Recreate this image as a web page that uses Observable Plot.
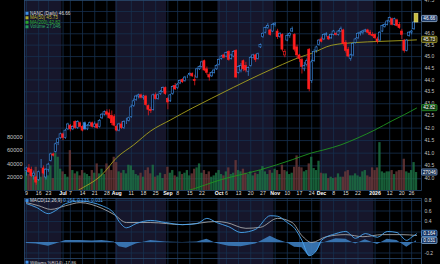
<!DOCTYPE html>
<html><head><meta charset="utf-8">
<script src="https://cdn.jsdelivr.net/npm/d3@7"></script>
<script src="https://cdn.jsdelivr.net/npm/@observablehq/plot@0.6"></script>
<style>
html,body{margin:0;padding:0;background:#000;}
#wrap{position:relative;width:440px;height:264px;overflow:hidden;background:#000;}
#wrap svg{position:absolute;left:0;}
</style></head><body><div id="wrap"></div>
<script>
// ---- DATA (trading-day index 0 = 9 Jun 2025 ... 160 = 28 Jan 2026) ----
const opens = [
40.30,40.40,40.35,40.10,40.05,39.95,40.45,40.40,40.05,40.35,
40.70,40.95,41.05,41.40,41.60,41.75,41.60,41.95,42.10,41.95,
42.25,42.00,42.20,42.05,42.20,41.95,42.10,42.20,42.05,42.15,
42.05,42.40,42.55,42.65,42.60,42.50,42.45,42.05,41.90,42.15,
42.00,42.30,42.30,42.45,42.90,43.15,43.30,43.35,43.25,43.30,
42.90,42.75,42.75,43.35,43.20,43.40,43.50,43.65,43.20,43.10,
43.40,43.75,43.65,43.85,44.00,43.95,44.15,44.20,44.25,44.00,
44.10,44.45,44.55,44.80,44.45,44.20,44.15,44.30,44.45,44.65,
44.90,45.05,45.00,45.20,44.90,45.00,45.25,44.30,44.40,44.80,
44.60,44.35,44.60,44.95,45.05,44.90,45.40,45.85,46.05,46.25,
46.15,46.10,46.40,46.10,45.85,45.95,45.05,45.70,45.90,46.10,
45.95,45.40,45.05,44.85,44.45,44.65,45.30,43.95,44.80,45.25,
45.50,45.75,45.75,45.95,45.85,45.80,45.95,46.00,45.95,46.10,
46.15,45.60,45.30,44.90,45.05,45.60,45.80,46.00,46.05,46.10,
46.15,46.05,45.95,45.95,45.75,45.70,46.10,46.30,46.40,46.55,
46.65,46.40,46.60,46.40,46.10,45.70,45.25,45.90,46.05,46.20,
46.55];
const highs = [
40.45,40.55,40.45,40.30,40.10,40.30,40.75,40.50,40.40,40.60,
41.00,41.00,41.40,41.60,41.80,41.80,41.95,42.20,42.15,42.10,
42.30,42.30,42.25,42.10,42.25,42.15,42.25,42.25,42.25,42.20,
42.35,42.60,42.70,42.75,42.75,42.70,42.55,42.10,42.20,42.25,
42.30,42.40,42.45,42.95,43.20,43.35,43.40,43.40,43.35,43.35,
42.95,42.85,43.40,43.45,43.40,43.55,43.70,43.70,43.25,43.40,
43.75,43.85,43.85,44.00,44.05,44.15,44.20,44.30,44.30,44.20,
44.50,44.60,44.80,44.85,44.55,44.30,44.35,44.45,44.65,44.90,
45.05,45.10,45.20,45.25,45.10,45.25,45.30,44.60,44.70,44.85,
44.75,44.55,45.00,45.10,45.10,45.15,45.55,46.05,46.30,46.45,
46.20,46.45,46.50,46.20,46.05,46.00,45.30,46.00,46.05,46.30,
46.00,45.50,45.10,44.95,44.75,44.90,45.35,44.85,45.30,45.45,
45.75,45.85,46.00,46.05,45.90,46.00,46.15,46.05,46.15,46.30,
46.20,45.70,45.40,45.10,45.60,45.80,46.05,46.10,46.15,46.20,
46.20,46.15,46.05,46.00,45.85,46.10,46.40,46.45,46.60,46.75,
46.70,46.70,46.65,46.50,46.20,45.75,45.75,46.10,46.15,46.55,
46.90];
const lows = [
40.10,40.20,40.05,39.95,39.75,39.90,40.40,40.15,39.95,40.25,
40.65,40.85,41.00,41.30,41.55,41.50,41.55,41.90,41.85,41.90,
41.95,41.95,42.00,41.85,41.90,41.90,42.05,42.00,42.00,41.95,
42.00,42.35,42.50,42.50,42.35,42.10,42.05,41.85,41.85,41.95,
41.95,42.15,42.25,42.40,42.85,43.10,43.20,43.20,43.15,42.90,
42.50,42.60,42.70,43.15,43.15,43.35,43.45,43.35,42.75,43.05,
43.35,43.55,43.60,43.80,43.85,43.90,44.05,44.15,44.10,43.75,
44.05,44.40,44.50,44.35,44.20,43.95,44.10,44.25,44.40,44.60,
44.85,44.90,44.95,44.80,44.85,44.95,44.05,44.25,44.30,44.35,
44.30,44.15,44.55,44.90,44.75,44.85,45.35,45.80,46.00,46.20,
45.90,46.05,46.30,45.75,45.80,45.20,44.95,45.65,45.80,46.05,
45.20,44.90,44.75,44.25,44.35,44.55,43.50,43.85,44.75,45.15,
45.45,45.60,45.70,45.85,45.70,45.75,45.90,45.90,45.90,46.05,
45.45,45.15,44.95,44.80,45.00,45.55,45.75,45.90,45.95,46.05,
46.00,45.90,45.85,45.75,45.55,45.65,46.05,46.25,46.35,46.50,
46.35,46.35,46.30,46.20,45.75,45.15,45.20,45.85,45.95,46.15,
46.50];
const closes = [
40.40,40.25,40.10,40.20,39.85,40.25,40.45,40.20,40.35,40.55,
40.95,40.90,41.35,41.55,41.75,41.60,41.90,42.15,41.95,42.05,
42.00,42.25,42.05,41.90,41.95,42.10,42.20,42.05,42.15,42.00,
42.30,42.55,42.65,42.55,42.40,42.20,42.10,41.90,42.15,42.00,
42.25,42.30,42.40,42.85,43.10,43.30,43.35,43.25,43.30,42.95,
42.75,42.70,43.35,43.20,43.35,43.50,43.65,43.40,43.05,43.35,
43.70,43.60,43.80,43.95,43.90,44.10,44.15,44.25,44.15,43.95,
44.45,44.55,44.75,44.40,44.30,44.10,44.30,44.40,44.60,44.85,
45.00,44.95,45.15,44.85,45.05,45.20,44.10,44.55,44.60,44.45,
44.40,44.50,44.95,45.05,44.85,45.10,45.50,46.00,46.25,46.35,
45.95,46.40,46.45,45.85,46.00,45.30,45.20,45.90,46.00,46.20,
45.30,45.05,44.90,44.55,44.60,44.80,43.60,44.75,45.20,45.40,
45.70,45.65,45.95,46.00,45.75,45.95,46.10,45.95,46.10,46.20,
45.55,45.25,45.00,45.05,45.55,45.75,46.00,46.05,46.10,46.15,
46.05,45.95,45.90,45.80,45.65,46.05,46.35,46.40,46.55,46.70,
46.40,46.65,46.35,46.25,45.95,45.25,45.70,46.05,46.10,46.50,
46.66];
const volumes = [
28000,24000,30000,22000,35000,26000,20000,25000,30000,22000,37000,18000,56000,50000,32000,
28000,24000,20000,60000,30000,25000,28000,22000,30000,26000,24000,21000,30000,26000,40000,25000,
32000,24000,40000,36000,30000,50000,42000,28000,26000,30000,25000,38000,37000,30000,24000,
22000,26000,20000,30000,34000,25000,38000,20000,22000,26000,18000,24000,35000,26000,30000,
22000,20000,28000,24000,26000,30000,22000,25000,32000,34000,40000,26000,30000,24000,28000,
20000,22000,26000,30000,24000,22000,28000,34000,24000,26000,45000,30000,28000,32000,26000,
24000,28000,22000,26000,24000,30000,36000,28000,24000,30000,26000,32000,30000,24000,38000,
30000,28000,24000,26000,35000,52000,35000,34000,28000,30000,40000,50000,33000,30000,44000,
26000,25000,25000,18000,20000,18000,19000,25000,20000,20000,28000,30000,22000,22000,25000,
22000,20000,28000,30000,22000,20000,34000,30000,34000,72000,28000,26000,28000,28000,30000,
24000,28000,30000,30000,47000,28000,26000,30000,42000,27046];

const ma50Idx = [0,10,21,31,37,44,51,59,68,76,85,95,105,112,117,125,136,144,154,160];
const ma50Val = [38.30,38.90,39.54,40.16,40.82,41.33,41.89,42.33,42.82,43.23,43.69,44.19,44.66,44.97,45.14,45.49,45.62,45.66,45.70,45.73];
const ma200Idx = [0,40,66,80,96,109,117,122,129,136,143,150,155,160];
const ma200Val = [38.40,39.10,39.54,39.97,40.35,40.74,41.01,41.13,41.33,41.61,41.93,42.30,42.55,42.82];

const macdIdx = [0,4,9,12,16,22,27,31,36,38,41,45,51,57,64,70,74,78,83,88,94,100,103,107,110,113,116,119,121,127,131,135,139,144,148,152,156,158,160];
const macdVal = [0.74,0.67,0.55,0.61,0.74,0.79,0.76,0.70,0.55,0.40,0.28,0.36,0.42,0.38,0.34,0.36,0.46,0.38,0.30,0.19,0.25,0.51,0.50,0.38,0.27,0.04,-0.25,-0.15,0.04,0.17,0.21,0.08,0.17,0.10,0.21,0.19,0.04,0.10,0.164];
const histVal = [-0.02,-0.03,-0.07,-0.03,0.04,0.04,0.03,0.04,0.01,-0.08,-0.11,-0.03,0.04,0.01,0.0,0.01,0.06,-0.02,-0.07,-0.08,-0.03,0.12,0.05,-0.01,-0.09,-0.10,-0.27,-0.18,-0.02,0.07,0.06,-0.03,0.05,-0.04,0.06,0.04,-0.09,-0.03,0.031];
const signalIdx = [0,5,10,16,22,31,36,41,51,64,78,82,90,96,103,109,113,117,123,131,138,146,154,160];
const signalVal = [0.76,0.70,0.63,0.70,0.76,0.65,0.53,0.38,0.38,0.34,0.40,0.38,0.27,0.29,0.46,0.38,0.13,0.0,0.11,0.15,0.11,0.15,0.15,0.133];

const xTickIdx = [0,5,9,15,18,23,28,33,37,43,48,53,58,62,67,72,79,82,87,92,97,102,107,112,117,121,126,131,136,143,149,154,158];
const xTickLab = ["9","16","23","Jul","7","14","21","28","Aug","11","18","25","Sep","8","15","22","Oct","6","13","20","27","Nov","10","17","24","Dec","8","15","22","2026","12","20","26"];
const monthStarts = [0,15,37,58,79,102,121,143];
const priceTicks = [40,40.5,41,41.5,42,42.5,43,43.5,44,44.5,45,45.5,46,47.5];
const priceGrid = [40,40.5,41,41.5,42,42.5,43,43.5,44,44.5,45,45.5,46,46.5,47];
const volTicks = [20000,40000,60000,80000];
const macdTicks = [0.8,0.6,0.4,-0.2];
const macdGrid = [0.8,0.6,0.4,0.2,0,-0.2];

// ---- STYLE ----
const FONT = "Liberation Sans, Arial, sans-serif";
const BLUE = "#3d8fe6", RED = "#ff1e1e", NAVY = "#16162b", GRID = "#16304e", FRAME = "#2a4a6e";
const xScale = {type:"linear", domain:[-0.82, 162.05], axis:null};
const wrap = document.getElementById("wrap");
function place(svg, top){ svg.style.top = top+"px"; wrap.appendChild(svg); return svg; }

const candles = closes.map((c,i)=>{
  const prev = i>0 ? closes[i-1] : opens[i];
  return {i, o:opens[i], h:highs[i], l:lows[i], c, col: c>=prev?BLUE:RED, hollow: c>=opens[i]};
});
const vols = volumes.map((v,i)=>({i, v, up: i===0 || closes[i]>=closes[i-1]}));
const ma50 = ma50Idx.map((i,k)=>({i, v:ma50Val[k]}));
const ma200 = ma200Idx.map((i,k)=>({i, v:ma200Val[k]}));
const macd = macdIdx.map((i,k)=>({i, v:macdVal[k]}));
const hist = macdIdx.map((i,k)=>({i, v:histVal[k]}));
const signal = signalIdx.map((i,k)=>({i, v:signalVal[k]}));
const xTicks = xTickIdx.map((i,k)=>({i, label:xTickLab[k], bold:/[A-Za-z]/.test(xTickLab[k])||xTickLab[k].length===4}));
const navyBands = monthStarts.map((s,k)=>({a: k===0 ? -5 : s-0.5, b: k+1<monthStarts.length ? monthStarts[k+1]-0.5 : 170})).filter((d,k)=>k%2===0);

const common = {width:440, marginLeft:24, marginRight:19, x:xScale,
  style:{background:"transparent", overflow:"visible", fontFamily:FONT}};

// Layer 1: background, grid, price axis, date axis
const bg = Plot.plot({...common, height:199, marginTop:0, marginBottom:9,
  y:{type:"log", domain:[39.55,47.5], axis:null},
  marks:[
    Plot.rect(navyBands,{x1:"a", x2:"b", fill:NAVY, clip:true}),
    Plot.ruleY(priceGrid,{stroke:GRID, strokeWidth:0.8}),
    Plot.ruleX(xTickIdx,{stroke:GRID, strokeWidth:0.8}),
    Plot.frame({stroke:FRAME, strokeWidth:0.8}),
    Plot.text(priceTicks,{y:d=>d, frameAnchor:"right", dx:3, textAnchor:"start", text:d=>d.toFixed(1), fill:"#c4c4c4", fontSize:5}),
    Plot.text(xTicks.filter(d=>!d.bold),{x:"i", frameAnchor:"bottom", dy:4.5, text:"label", fill:"#dddddd", fontSize:5.2}),
    Plot.text(xTicks.filter(d=>d.bold),{x:"i", frameAnchor:"bottom", dy:4.5, text:"label", fill:"#ffffff", fontSize:5.2, fontWeight:"bold"})
  ]});
bg.style.background = "#000";
place(bg, 0);

// Layer 2: volume
const volPlot = Plot.plot({...common, height:199, marginTop:0, marginBottom:9,
  y:{domain:[0,285700], axis:null},
  marks:[
    Plot.rectY(vols,{x1:d=>d.i-0.47, x2:d=>d.i+0.47, y:"v", fill:d=>d.up?"#1d7445":"#6e3a3a", fillOpacity:0.8}),
    Plot.text(volTicks,{y:d=>d, frameAnchor:"left", dx:-2, textAnchor:"end", text:d=>String(d), fill:"#c4c4c4", fontSize:5.6})
  ]});
place(volPlot, 0);

// Layer 3: candles + moving averages
const pricePlot = Plot.plot({...common, height:199, marginTop:0, marginBottom:9,
  y:{type:"log", domain:[39.55,47.5], axis:null},
  marks:[
    Plot.line(ma200,{x:"i", y:"v", stroke:"#1f951f", strokeWidth:0.9, curve:"monotone-x", clip:true}),
    Plot.line(ma50,{x:"i", y:"v", stroke:"#a8a21e", strokeWidth:0.9, curve:"monotone-x", clip:true}),
    Plot.ruleX(candles,{x:"i", y1:"l", y2:"h", stroke:"col", strokeWidth:0.7}),
    Plot.rect(candles,{x1:d=>d.i-0.42, x2:d=>d.i+0.42, y1:"o", y2:"c", fill:d=>d.hollow?"#050510":d.col, stroke:"col", strokeWidth:0.6}),
    Plot.rect(candles.slice(-1),{x1:d=>d.i-0.8, x2:d=>d.i+0.8, y1:"l", y2:"h", fill:"#c9bd3c", stroke:"#e8e0a0", strokeWidth:0.5})
  ]});
place(pricePlot, 0);

// Layer 4: MACD panel
const macdPlot = Plot.plot({...common, height:60, marginTop:0, marginBottom:0,
  y:{domain:[-0.305,0.838], axis:null},
  marks:[
    Plot.rect(navyBands,{x1:"a", x2:"b", fill:NAVY, clip:true}),
    Plot.ruleY(macdGrid,{stroke:GRID, strokeWidth:0.8}),
    Plot.ruleX(xTickIdx,{stroke:GRID, strokeWidth:0.8}),
    Plot.areaY(hist,{x:"i", y:"v", fill:"#3c7cbc", fillOpacity:0.9}),
    Plot.line(signal,{x:"i", y:"v", stroke:"#b8b8b8", strokeWidth:0.8, curve:"monotone-x"}),
    Plot.line(macd,{x:"i", y:"v", stroke:"#4aa6f2", strokeWidth:0.9, curve:"monotone-x"}),
    Plot.frame({stroke:FRAME, strokeWidth:0.8}),
    Plot.text(macdTicks,{y:d=>d, frameAnchor:"right", dx:3, textAnchor:"start", text:d=>d.toFixed(1), fill:"#c4c4c4", fontSize:5})
  ]});
macdPlot.style.background = "#000";
place(macdPlot, 198);

// Layer 5: strip of next indicator panel
const strip = Plot.plot({...common, height:6, marginTop:0, marginBottom:0,
  y:{domain:[0,1], axis:null},
  marks:[
    Plot.rect(navyBands,{x1:"a", x2:"b", fill:NAVY, clip:true}),
    Plot.ruleX(xTickIdx,{stroke:GRID, strokeWidth:0.8}),
    Plot.frame({stroke:FRAME, strokeWidth:0.8})
  ]});
strip.style.background = "#000";
place(strip, 258);

// ---- value boxes on right axis (positions from the plots' own scales) ----
function box(svg, y, label, stroke, fill){
  const g = d3.select(svg).append("g").attr("font-family", FONT);
  g.append("rect").attr("x",421.5).attr("y",y-3.1).attr("width",15.5).attr("height",6.2)
    .attr("rx",1).attr("fill",fill).attr("stroke",stroke).attr("stroke-width",0.7);
  g.append("text").attr("x",429.3).attr("y",y).attr("dy","0.35em").attr("text-anchor","middle")
    .attr("font-size",4.8).attr("fill","#ffffff").text(label);
}
const py = pricePlot.scale("y");
box(pricePlot, py.apply(closes[closes.length-1]), closes[closes.length-1].toFixed(2), "#a9c4e6", "#1f3c6a");
box(pricePlot, py.apply(ma50Val[ma50Val.length-1]), ma50Val[ma50Val.length-1].toFixed(2), "#b8b132", "#3a3810");
box(pricePlot, py.apply(ma200Val[ma200Val.length-1]), ma200Val[ma200Val.length-1].toFixed(2), "#2fa82f", "#0e3a12");
box(volPlot, volPlot.scale("y").apply(volumes[volumes.length-1]), String(volumes[volumes.length-1]), "#7ea4d4", "#1a3050");
const my = macdPlot.scale("y");
box(macdPlot, my.apply(macdVal[macdVal.length-1]), macdVal[macdVal.length-1].toFixed(3), "#5aa2ea", "#173563");
box(macdPlot, my.apply(histVal[histVal.length-1]), histVal[histVal.length-1].toFixed(3), "#9cc8f0", "#173563");

// ---- legends ----
function legend(svg, x, y, iconColor, parts, size){
  const s = d3.select(svg);
  s.append("rect").attr("x",x).attr("y",y-1.5).attr("width",3).attr("height",3).attr("fill",iconColor);
  const t = s.append("text").attr("x",x+4.5).attr("y",y).attr("dy","0.35em")
    .attr("text-anchor","start").attr("font-size",size).attr("font-family",FONT);
  parts.forEach(([txt,col])=>t.append("tspan").attr("fill",col).text(txt));
}
legend(pricePlot, 25.5, 13.3, BLUE, [["NANC (Daily) 46.66","#dedede"]], 4.6);
legend(pricePlot, 25.5, 17.8, "#b5ae2a", [["MA(50) 45.73","#c0b830"]], 4.6);
legend(pricePlot, 25.5, 22.3, "#2aa52a", [["MA(200) 42.82","#2fb02f"]], 4.6);
legend(pricePlot, 25.5, 26.8, "#24995a", [["Volume 27,046","#2fb065"]], 4.6);
legend(macdPlot, 25.5, 2.6, BLUE, [["MACD(12,26,9) ","#d8d8d8"],["0.164, 0.133, 0.031","#55a8f0"]], 4.6);
legend(strip, 25.5, 4.2, BLUE, [["Williams %R(14) -17.86","#d8d8d8"]], 4.4);
</script></body></html>
